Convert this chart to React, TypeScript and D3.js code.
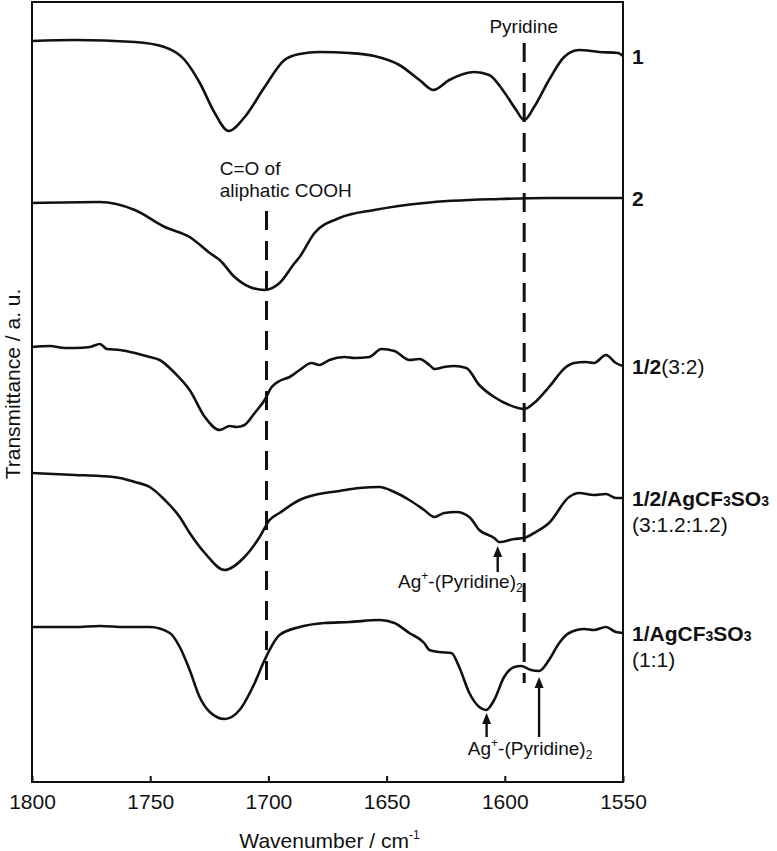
import React, { useRef, useEffect } from 'react';
import * as d3 from 'd3';

// wavenumber (cm-1) vs transmittance (a.u., stacked offsets)
const WAVENUMBER_TICKS = [1800, 1750, 1700, 1650, 1600, 1550];

const spectrum1: [number, number][] = [
  [1800, 74.1], [1782, 74.2], [1756.5, 74.0], [1744, 73.5], [1735.4, 72.2], [1729, 69.9],
  [1722.7, 66.9], [1716.8, 65.1], [1710, 66.5], [1701.6, 69.5], [1693.2, 72.2], [1686.8, 72.8],
  [1678.4, 73.0], [1665.7, 72.9], [1655.2, 72.6], [1644.6, 71.7], [1636.1, 70.2], [1630.2, 69.2],
  [1623.5, 70.2], [1612.9, 71.0], [1606.6, 70.7], [1600.3, 69.0], [1595.2, 67.2], [1591.8, 66.2],
  [1587.6, 67.5], [1581.3, 70.2], [1574.9, 72.5], [1568.6, 73.2], [1560.1, 73.0], [1552, 72.9],
  [1550, 72.6],
];

const spectrum2: [number, number][] = [
  [1800, 57.9], [1771.3, 58.0], [1756.5, 57.2], [1743.8, 55.5], [1733.3, 54.5], [1724.8, 52.9],
  [1720.6, 52.2], [1714.3, 50.5], [1707.9, 49.5], [1701.6, 49.2], [1695.3, 49.9], [1688.9, 51.9],
  [1686.8, 52.5], [1680.5, 54.9], [1670, 56.4], [1655.2, 57.2], [1634.1, 57.9], [1602.4, 58.3],
  [1581.3, 58.4], [1550, 58.4],
];

const spectrum3: [number, number][] = [
  [1800, 43.5], [1792.4, 43.6], [1786.1, 43.4], [1781.8, 43.4], [1775.5, 43.5], [1771.3, 43.8],
  [1768.3, 43.3], [1762.8, 43.2], [1756.5, 42.9], [1750.2, 42.5], [1746, 42.2], [1739.6, 40.9],
  [1733.3, 39.2], [1726.9, 36.5], [1720.6, 35.2], [1716.4, 35.6], [1713.4, 35.5], [1710.1, 35.7],
  [1705.8, 36.9], [1701.6, 38.2], [1698.6, 39.5], [1695.3, 40.1], [1691, 40.5], [1686.8, 41.2],
  [1681.8, 41.9], [1678.4, 41.7], [1674.2, 42.2], [1667.8, 42.5], [1663.6, 42.4], [1657.3, 42.5],
  [1652.2, 43.3], [1646.7, 43.1], [1640.4, 42.2], [1636.1, 42.3], [1631.9, 41.7], [1629.8, 41.3],
  [1625.6, 41.5], [1621.4, 41.6], [1616.3, 41.4], [1610.8, 39.7], [1604.5, 38.5], [1598.1, 37.7],
  [1591.8, 37.3], [1587.6, 37.9], [1581.3, 39.5], [1574.1, 41.5], [1570.7, 41.9], [1565.7, 42.0],
  [1562.3, 41.9], [1557.2, 42.7], [1553, 41.9], [1550, 41.6],
];

const spectrum4: [number, number][] = [
  [1800, 30.9], [1781.8, 30.7], [1771.3, 30.6], [1762.8, 30.4], [1756.5, 30.0], [1750.2, 29.5],
  [1743.8, 28.2], [1737.5, 26.5], [1733.3, 24.9], [1726.9, 22.9], [1718.5, 21.2], [1710.1, 22.5],
  [1703.7, 24.5], [1699.5, 26.2], [1695.3, 26.9], [1686.8, 28.2], [1680.5, 28.7], [1670, 29.1],
  [1661.5, 29.4], [1653, 29.5], [1646.7, 29.0], [1640.4, 28.2], [1634.1, 27.2], [1629.8, 26.5],
  [1625.6, 26.9], [1620.5, 27.0], [1615, 26.5], [1610.8, 25.2], [1604.5, 24.4], [1602.4, 24.0],
  [1596, 24.3], [1591.8, 24.4], [1587.6, 24.9], [1581.3, 25.9], [1572.8, 28.5], [1568.6, 28.9],
  [1562.3, 28.7], [1557.2, 28.8], [1553, 28.4], [1550, 28.4],
];

const spectrum5: [number, number][] = [
  [1800, 15.5], [1781.8, 15.5], [1771.3, 15.6], [1760.7, 15.5], [1750.2, 15.5], [1741.7, 14.9],
  [1737.5, 13.5], [1733.3, 11.2], [1729.1, 8.5], [1724.8, 7.0], [1718.5, 6.3], [1712.2, 7.2],
  [1705.8, 9.9], [1701.6, 12.2], [1695.3, 14.7], [1686.8, 15.5], [1676.3, 15.9], [1665.7, 16.0],
  [1653, 16.2], [1646.7, 15.9], [1640.4, 14.9], [1634.1, 13.9], [1631.9, 13.2], [1627.7, 13.0],
  [1622.6, 12.9], [1619.3, 11.5], [1615, 8.9], [1610.8, 7.5], [1607.9, 7.2], [1604.5, 8.2],
  [1600.3, 10.5], [1596, 11.5], [1593.1, 11.6], [1588.9, 11.2], [1585.5, 11.1], [1581.3, 12.2],
  [1577, 13.9], [1572.8, 14.9], [1566.4, 15.3], [1562.3, 15.2], [1557.2, 15.5], [1553, 15.0],
  [1550, 14.9],
];

const SPECTRA = [spectrum1, spectrum2, spectrum3, spectrum4, spectrum5];

// label pieces: [text, kind] kind: b = bold, s = bold subscript, n = normal
const SERIES_NAMES: [string, string][][] = [
  [['1', 'b']],
  [['2', 'b']],
  [['1/2', 'b'], ['(3:2)', 'n']],
  [['1/2/AgCF', 'b'], ['3', 's'], ['SO', 'b'], ['3', 's']],
  [['1/AgCF', 'b'], ['3', 's'], ['SO', 'b'], ['3', 's']],
];
const SERIES_RATIOS = ['', '', '', '(3:1.2:1.2)', '(1:1)'];

// dashed guide lines: [wavenumber, from, to]
const GUIDES: [number, number, number][] = [
  [1700.8, 57.1, 9.9],
  [1591.8, 73.9, 9.9],
];

// arrows: [wavenumber, tail, tip]
const ARROWS: [number, number, number][] = [
  [1603, 21.0, 23.6],
  [1607.7, 4.5, 6.9],
  [1585.5, 4.5, 10.5],
];

// Ag+-(Pyridine)2 labels: [wavenumber (centre), baseline value]
const AG_LABELS: [number, number][] = [
  [1618.8, 19.4],
  [1589.3, 2.7],
];

const FONT = 'Liberation Sans, Arial, Helvetica, sans-serif';

const App = () => {
  const ref = useRef<SVGSVGElement>(null);

  useEffect(() => {
    const width = 777;
    const height = 851;
    const margin = { top: 2, right: 154, bottom: 69, left: 32 };
    const x0 = margin.left;
    const x1 = width - margin.right;
    const y0 = margin.top;
    const y1 = height - margin.bottom;

    const svg = d3.select(ref.current);
    svg.selectAll('*').remove();

    const x = d3.scaleLinear().domain([1800, 1550]).range([x0, x1]);
    const y = d3.scaleLinear().domain([0, 78]).range([y1, y0]);

    // guides
    svg
      .append('g')
      .selectAll('line')
      .data(GUIDES)
      .join('line')
      .attr('x1', (d) => x(d[0]))
      .attr('x2', (d) => x(d[0]))
      .attr('y1', (d) => y(d[1]))
      .attr('y2', (d) => y(d[2]))
      .attr('stroke', '#111')
      .attr('stroke-width', 3)
      .attr('stroke-dasharray', '19,11');

    const line = d3
      .line<[number, number]>()
      .curve(d3.curveMonotoneX)
      .x((d) => x(d[0]))
      .y((d) => y(d[1]));

    svg
      .append('g')
      .selectAll('path')
      .data(SPECTRA)
      .join('path')
      .attr('fill', 'none')
      .attr('stroke', '#111')
      .attr('stroke-width', 2.6)
      .attr('stroke-linejoin', 'round')
      .attr('d', (d) => line(d));

    // frame
    svg
      .append('rect')
      .attr('x', x0)
      .attr('y', y0)
      .attr('width', x1 - x0)
      .attr('height', y1 - y0)
      .attr('fill', 'none')
      .attr('stroke', '#111')
      .attr('stroke-width', 2);

    // x axis, ticks pointing inward
    const ax = svg
      .append('g')
      .attr('transform', `translate(0, ${y1})`)
      .call(
        d3
          .axisBottom(x)
          .tickValues(WAVENUMBER_TICKS)
          .tickSizeInner(-6)
          .tickSizeOuter(0)
          .tickPadding(12)
          .tickFormat(d3.format('d'))
      );
    ax.select('.domain').remove();
    ax.attr('font-family', FONT).attr('font-size', 21);
    ax.selectAll('.tick line').attr('stroke', '#111').attr('stroke-width', 2);
    ax.selectAll('.tick text').attr('fill', '#111');

    // axis titles
    const xt = svg
      .append('text')
      .attr('x', (x0 + x1) / 2 + 2)
      .attr('y', 848)
      .attr('text-anchor', 'middle')
      .attr('font-family', FONT)
      .attr('font-size', 21)
      .attr('fill', '#111');
    xt.append('tspan').text('Wavenumber / cm');
    xt.append('tspan').attr('font-size', 12).attr('dy', -9).text('-1');

    svg
      .append('text')
      .attr('transform', `translate(20, ${(y0 + y1) / 2 - 8}) rotate(-90)`)
      .attr('text-anchor', 'middle')
      .attr('font-family', FONT)
      .attr('font-size', 21)
      .attr('fill', '#111')
      .text('Transmittance / a. u.');

    // series names at right
    SPECTRA.forEach((s, i) => {
      const yEnd = y(s[s.length - 1][1]);
      const t = svg
        .append('text')
        .attr('x', x1 + 9)
        .attr('y', yEnd + 8)
        .attr('font-family', FONT)
        .attr('font-size', 21)
        .attr('fill', '#111');
      SERIES_NAMES[i].forEach(([txt, kind]) => {
        t.append('tspan')
          .attr('font-weight', kind === 'n' ? 'normal' : 'bold')
          .attr('font-size', kind === 's' ? 14 : 21)
          .text(txt);
      });
      if (SERIES_RATIOS[i]) {
        svg
          .append('text')
          .attr('x', x1 + 9)
          .attr('y', yEnd + 34)
          .attr('font-family', FONT)
          .attr('font-size', 21)
          .attr('fill', '#111')
          .text(SERIES_RATIOS[i]);
      }
    });

    // annotations
    const annot = (wn: number, v: number, anchor: string) =>
      svg
        .append('text')
        .attr('x', x(wn))
        .attr('y', y(v))
        .attr('text-anchor', anchor)
        .attr('font-family', FONT)
        .attr('font-size', 19)
        .attr('fill', '#111');

    annot(1592, 74.9, 'middle').text('Pyridine');
    annot(1720.6, 60.7, 'start').text('C=O of');
    annot(1720.6, 58.5, 'start').text('aliphatic COOH');

    AG_LABELS.forEach(([wn, v]) => {
      const t = annot(wn, v, 'middle');
      t.append('tspan').text('Ag');
      t.append('tspan').attr('font-size', 12).attr('dy', -8).text('+');
      t.append('tspan').attr('dy', 8).text('-(Pyridine)');
      t.append('tspan').attr('font-size', 12).attr('dy', 4).text('2');
    });

    const ag = svg.append('g');
    ARROWS.forEach(([wn, tail, tip]) => {
      const ax1 = x(wn);
      const yTip = y(tip);
      const yTail = y(tail);
      ag.append('line')
        .attr('x1', ax1)
        .attr('x2', ax1)
        .attr('y1', yTail)
        .attr('y2', yTip + 8)
        .attr('stroke', '#111')
        .attr('stroke-width', 2.4);
      ag.append('path')
        .attr('d', `M${ax1},${yTip} L${ax1 - 4.5},${yTip + 11} L${ax1 + 4.5},${yTip + 11} Z`)
        .attr('fill', '#111');
    });
  }, []);

  return (
    <svg
      ref={ref}
      width={777}
      height={851}
      style={{ position: 'absolute', left: 0, top: 0, background: '#fff' }}
    />
  );
};

export default App;
